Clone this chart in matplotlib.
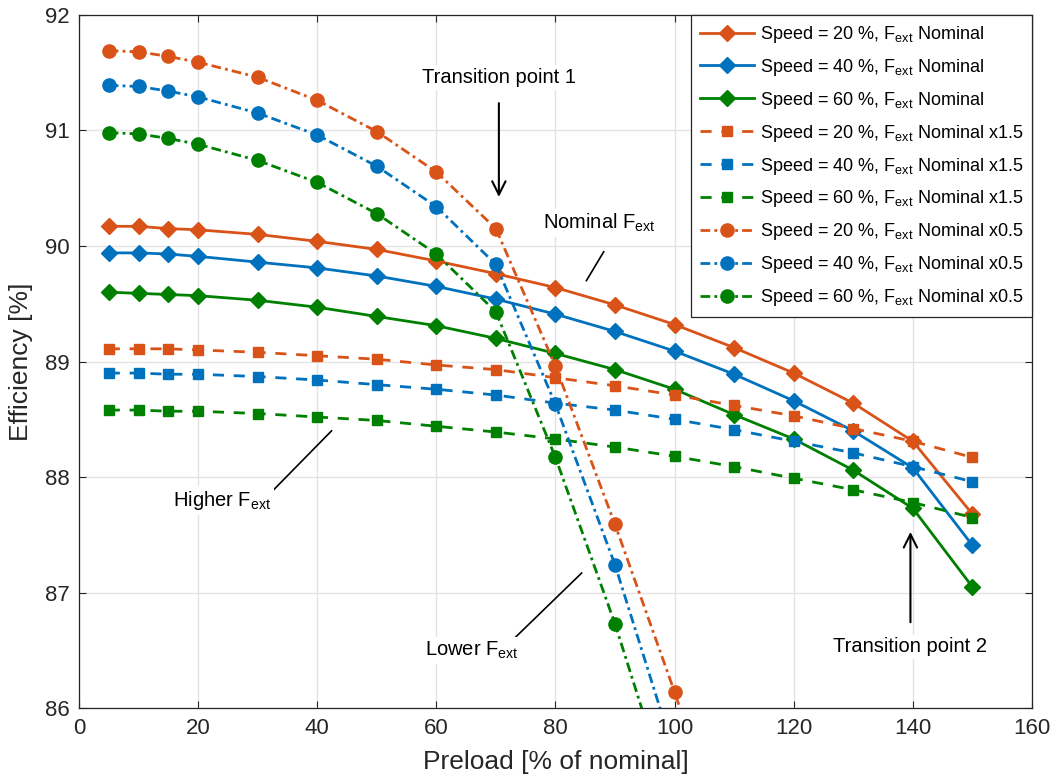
import matplotlib
matplotlib.use("Agg")
import matplotlib.pyplot as plt

plt.rcParams['font.family'] = ['Liberation Sans', 'DejaVu Sans']
plt.rcParams['mathtext.fontset'] = 'custom'
plt.rcParams['mathtext.rm'] = 'Liberation Sans'
plt.rcParams['mathtext.it'] = 'Liberation Sans:italic'

# preload [% of nominal]
x = [5, 10, 15, 20, 30, 40, 50, 60, 70, 80, 90, 100, 110, 120, 130, 140, 150]
x_low = [5, 10, 15, 20, 30, 40, 50, 60, 70, 80, 90, 100, 110]

# F_ext nominal
nom20 = [90.17, 90.17, 90.15, 90.14, 90.10, 90.04, 89.97, 89.87, 89.76, 89.64, 89.49, 89.32, 89.12, 88.90, 88.64, 88.31, 87.68]
nom40 = [89.94, 89.94, 89.93, 89.91, 89.86, 89.81, 89.74, 89.65, 89.54, 89.41, 89.26, 89.09, 88.89, 88.66, 88.40, 88.08, 87.41]
nom60 = [89.60, 89.59, 89.58, 89.57, 89.53, 89.47, 89.39, 89.31, 89.20, 89.07, 88.93, 88.76, 88.54, 88.33, 88.06, 87.73, 87.05]
# F_ext nominal x1.5
hi20 = [89.11, 89.11, 89.11, 89.10, 89.08, 89.05, 89.02, 88.97, 88.93, 88.86, 88.79, 88.71, 88.62, 88.53, 88.42, 88.31, 88.17]
hi40 = [88.90, 88.90, 88.89, 88.89, 88.87, 88.84, 88.80, 88.76, 88.71, 88.64, 88.58, 88.50, 88.41, 88.31, 88.21, 88.09, 87.96]
hi60 = [88.58, 88.58, 88.57, 88.57, 88.55, 88.52, 88.49, 88.44, 88.39, 88.33, 88.26, 88.18, 88.09, 87.99, 87.89, 87.78, 87.65]
# F_ext nominal x0.5
lo20 = [91.69, 91.68, 91.64, 91.59, 91.46, 91.26, 90.99, 90.64, 90.15, 88.96, 87.59, 86.14, 84.6]
lo40 = [91.39, 91.38, 91.34, 91.29, 91.15, 90.96, 90.69, 90.34, 89.84, 88.63, 87.24, 85.60, 84.0]
lo60 = [90.98, 90.97, 90.93, 90.88, 90.74, 90.55, 90.28, 89.93, 89.43, 88.17, 86.73, 85.10, 83.5]

speeds = [20, 40, 60]
colors = ['#D95319', '#0072BD', '#008000']
fext = r'F$_{\mathrm{ext}}$'

fig = plt.figure(figsize=(10.53, 7.80), dpi=100)
ax = fig.add_axes([0.075, 0.092, 0.905, 0.889])

for s, y, c in zip(speeds, [nom20, nom40, nom60], colors):
    ax.plot(x, y, '-', color=c, lw=2, marker='D', ms=8.5,
            label=f'Speed = {s} %, {fext} Nominal')
for s, y, c in zip(speeds, [hi20, hi40, hi60], colors):
    ax.plot(x, y, color=c, lw=2, ls=(0, (4, 3.5)), marker='s', ms=7.5,
            label=f'Speed = {s} %, {fext} Nominal x1.5')
for s, y, c in zip(speeds, [lo20, lo40, lo60], colors):
    ax.plot(x_low, y, color=c, lw=2, ls=(0, (3.5, 1.5, 1, 1.5)), marker='o', ms=9.5,
            label=f'Speed = {s} %, {fext} Nominal x0.5')

ax.set_xlim(0, 160)
ax.set_ylim(86, 92)
ax.set_xticks(range(0, 161, 20))
ax.set_yticks(range(86, 93))
ax.grid(True, color='#e3e3e3', lw=1)
ax.set_axisbelow(True)
ax.tick_params(direction='in', top=True, right=True, labelsize=16,
               colors='#262626', length=5, width=0.8, pad=7)
for sp in ax.spines.values():
    sp.set_color('#262626')
    sp.set_linewidth(0.9)
ax.set_xlabel('Preload [% of nominal]', fontsize=19, color='#262626', labelpad=8)
ax.set_ylabel('Efficiency [%]', fontsize=19, color='#262626', labelpad=8)

box = dict(facecolor='white', edgecolor='none', pad=2)
tkw = dict(fontsize=14.5, ha='center', va='center', bbox=box, zorder=5)
ax.text(70.5, 91.46, 'Transition point 1', **tkw)
ax.annotate('', xy=(70.5, 90.4), xytext=(70.5, 91.26),
            arrowprops=dict(arrowstyle='->', lw=1.5, color='black', mutation_scale=24))
ax.text(87.4, 90.2, 'Nominal ' + fext, **tkw)
ax.plot([85.2, 88.1], [89.70, 89.95], color='black', lw=1.2)
ax.text(24.0, 87.8, 'Higher ' + fext, **tkw)
ax.plot([32.3, 42.4], [87.87, 88.40], color='black', lw=1.2)
ax.text(66.0, 86.5, 'Lower ' + fext, **tkw)
ax.plot([72.8, 84.4], [86.59, 87.17], color='black', lw=1.2)
ax.text(139.6, 86.53, 'Transition point 2', **tkw)
ax.annotate('', xy=(139.6, 87.55), xytext=(139.6, 86.72),
            arrowprops=dict(arrowstyle='->', lw=1.5, color='black', mutation_scale=24))

leg = ax.legend(loc='upper right', fontsize=13, handlelength=3.0, labelspacing=0.66,
                borderaxespad=0.0, fancybox=False, framealpha=1, handletextpad=0.3,
                borderpad=0.5)
leg.get_frame().set_edgecolor('#262626')
leg.get_frame().set_linewidth(0.9)

fig.savefig('out.png', dpi=100)
